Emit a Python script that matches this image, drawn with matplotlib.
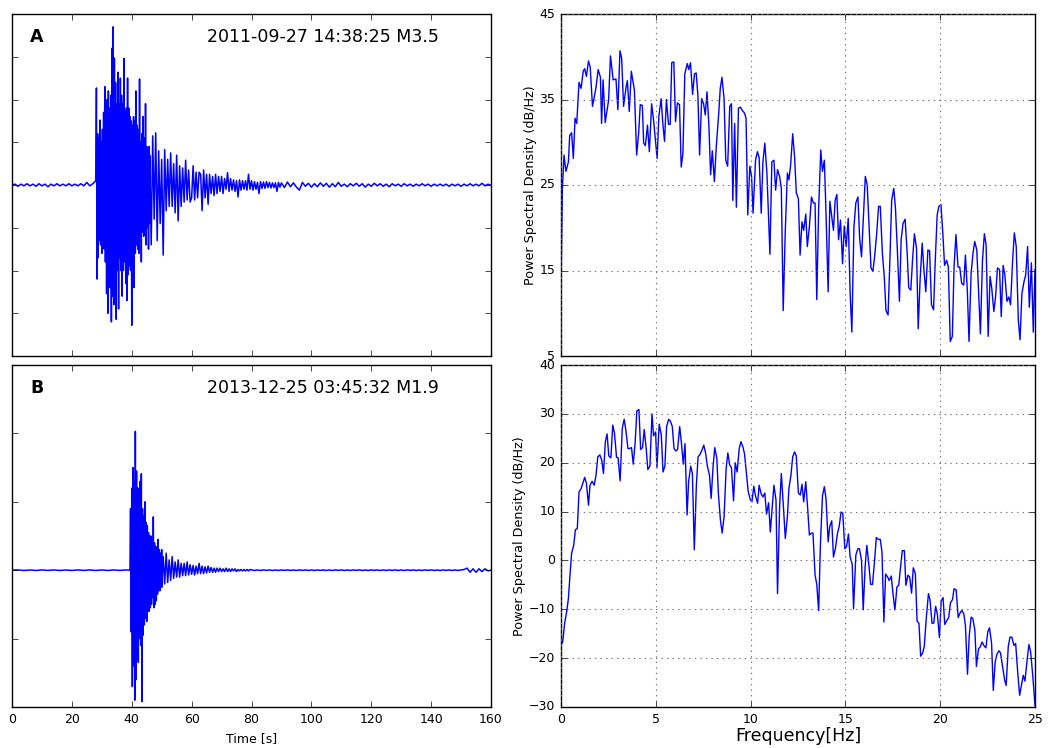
"""Two events: raw seismograms (left) and their power spectral density (right)."""

import numpy as np
import matplotlib

matplotlib.use("Agg")
import matplotlib.pyplot as plt

# ---- seismogram A, 2011-09-27 M3.5 (amplitude in tick units) ----
# each segment: start time [s], sample step [s]
a_pre = [0.0, 0.02, -0.03, 0.02, -0.02, 0.03, -0.02, 0.02, -0.03, 0.03,
         -0.02, 0.02, -0.04, 0.02, -0.02, 0.03, -0.02, 0.02, -0.02, 0.03,
         -0.02, 0.02, -0.02, 0.03, -0.02, 0.06, -0.02, 0.03]
a_burst = [0.1, 2.27, -2.2, 1.2, -1.7, 1.1, -1.3, 1.52, -1.4, 1.0,
           -1.6, 1.3, -1.2, 1.7, -1.5, 2.3, -1.8, 1.6, -2.54, 2.0,
           -3.0, 2.2, -2.0, 1.8, -2.4, 2.1, -3.2, 3.2, -2.6, 3.7,
           -2.8, 2.97, -2.2, 2.4, -3.14, 1.9, -2.0, 2.64, -2.9, 1.9,
           -1.7, 2.5, -2.0, 2.1, -2.6, 1.9, -2.0, 2.96, -1.8, 1.7,
           -2.3, 1.8, -2.7, 2.5, -2.1, 1.8, -1.9, 1.6, -2.0, 1.5,
           -3.28, 1.4, -1.8, 1.6, -2.4, 1.5, -1.6, 2.2, -1.4, 1.4,
           -1.5, 1.3, -1.6, 2.48, -1.2, 1.0, -1.8, 1.2, -1.1, 1.6,
           -1.2, 1.1, -1.0, 1.9, -1.4, 0.9, -1.0, 0.8, -1.5, 0.9, -0.9]
a_coda = [0.7, -1.4, 1.15, -0.8, 1.22, -1.3, 0.8, -0.9, 0.6, -1.64,
          0.83, -0.6, 0.6, -0.5, 0.75, -0.5, 0.5, -0.65, 0.7, -0.84,
          0.45, -0.5, 0.4, -0.4, 0.58, -0.35, 0.35, -0.4, -0.3, 0.45,
          -0.35, 0.3, -0.3, 0.3, 0.25, -0.6, 0.35, -0.3, 0.25, -0.45,
          0.25, -0.2, 0.2, -0.25, 0.25, -0.2, 0.2, -0.15, 0.2, -0.2,
          0.15, -0.1, 0.29, -0.15, 0.15, -0.12, 0.12, -0.15, 0.1, -0.28,
          0.12, -0.12, 0.1, -0.1, 0.1, -0.12, 0.25, -0.1, 0.1, -0.12,
          0.08, -0.1, 0.06, -0.2, 0.08, -0.08, 0.07, -0.08, 0.08, -0.06,
          0.06, -0.07, 0.05, -0.06, 0.05, -0.15, 0.06, -0.05]
a_tail = [0.05, -0.06, 0.07, -0.04, 0.05, -0.05, -0.12, 0.06, -0.03, 0.04,
          -0.05, 0.03, -0.04, 0.05, -0.03, 0.04, -0.05, 0.03, -0.04, 0.06,
          -0.03, 0.02, -0.04, 0.03, -0.02, 0.04, -0.03, 0.03, -0.05, 0.02,
          -0.03, 0.04, -0.02, 0.03, -0.03, 0.02, -0.04, 0.03, -0.02, 0.02,
          -0.03, 0.03, -0.02, 0.02, -0.03, 0.02, -0.02, 0.03, -0.02, 0.02,
          -0.03, 0.02, -0.02, 0.02, -0.02, 0.02, -0.03, 0.02, -0.02, 0.02,
          -0.03, 0.02, -0.02, 0.03, -0.02, 0.02, -0.02, 0.04, -0.02, 0.02, -0.01]
seis_a = [(0.0, 1.0, a_pre), (28.0, 0.2, a_burst), (46.0, 0.5, a_coda), (90.0, 1.0, a_tail)]

# ---- seismogram B, 2013-12-25 M1.9 ----
b_pre = [0.0, 0.004, -0.004, 0.003, -0.004, 0.004, -0.003, 0.004, -0.004, 0.003,
         -0.004, 0.004, -0.003, 0.004, -0.004, 0.003, -0.004, 0.004, -0.003, 0.004]
b_burst = [0.0, 0.9, -0.9, 1.2, -1.7, 1.5, -1.4, 1.3, -1.9, 2.03, -1.6,
           1.45, -1.3, 1.2, -1.35, 1.1, -1.0, 1.3, -1.1, 1.41, -1.92,
           0.9, -0.95, 0.8, -0.8, 1.0, -0.7, 0.7, -0.75, 0.65, -0.6,
           0.55, -0.6, 0.5, -0.55, 0.5, -0.5, 0.45, -0.4, 0.78, -0.55,
           0.4, -0.5, 0.35, -0.45, 0.3, -0.35, 0.45, -0.3, 0.3, -0.3,
           0.25, -0.25, 0.3]
b_coda = [-0.25, 0.2, -0.2, 0.25, -0.18, 0.15, -0.15, 0.2, -0.12, 0.12,
          -0.1, 0.15, -0.1, 0.1, -0.08, 0.1, -0.08, 0.12, -0.07, 0.08,
          -0.06, 0.07, -0.07, 0.06, -0.05, 0.1, -0.05, 0.06, -0.05, 0.05,
          -0.04, 0.06, -0.03, 0.04, -0.03, 0.03, -0.03, 0.03, -0.02, 0.03,
          -0.02, 0.02, -0.02, 0.03, -0.02, 0.02, -0.02, 0.02, -0.01, 0.02,
          -0.02, 0.01, -0.01, 0.01, -0.01, 0.01, -0.01, 0.01, -0.01, 0.01]
b_tail = [0.004, -0.004, 0.003, -0.004, 0.004, -0.003, 0.004, -0.004, 0.003, -0.004,
          0.004, -0.003, 0.004, -0.004, 0.003, -0.004, 0.004, -0.003, 0.004, -0.004,
          0.003, -0.004, 0.004, -0.003, 0.004, -0.004, 0.003, -0.004, 0.004, -0.003,
          0.004, -0.004, 0.003, -0.004, 0.004, -0.003, 0.004, -0.004, 0.003, -0.004,
          0.004, -0.003, 0.004, -0.004, 0.003, -0.004, 0.004, -0.003, 0.004, -0.004,
          0.003, -0.004, 0.004, -0.003, 0.004, -0.004, 0.003, -0.004, 0.004, -0.003,
          0.004, -0.004, 0.003, -0.004, 0.004, -0.003, 0.004, -0.004, 0.003, -0.004,
          0.004, 0.01, 0.03, -0.03, 0.02, -0.03, 0.02, -0.02, 0.02, -0.01, 0.0]
seis_b = [(0.0, 2.0, b_pre), (39.4, 0.2, b_burst), (50.0, 0.5, b_coda), (80.0, 1.0, b_tail)]

# ---- power spectral density [dB/Hz] ----
freq_a = [0.00, 0.07, 0.16, 0.26, 0.39, 0.46, 0.56, 0.65, 0.74, 0.83,
          0.95, 1.06, 1.17, 1.25, 1.34, 1.45, 1.54, 1.66, 1.84, 1.96,
          2.08, 2.14, 2.22, 2.33, 2.51, 2.61, 2.75, 2.90, 3.00, 3.11,
          3.20, 3.30, 3.43, 3.50, 3.60, 3.71, 3.87, 3.99, 4.10, 4.18,
          4.29, 4.36, 4.45, 4.56, 4.66, 4.78, 4.89, 5.01, 5.07, 5.16,
          5.28, 5.37, 5.46, 5.56, 5.67, 5.76, 5.84, 5.95, 6.04, 6.14,
          6.25, 6.34, 6.43, 6.53, 6.66, 6.74, 6.83, 6.94, 7.04, 7.13,
          7.22, 7.31, 7.42, 7.52, 7.61, 7.70, 7.80, 7.89, 7.98, 8.09,
          8.19, 8.32, 8.40, 8.49, 8.60, 8.69, 8.79, 8.90, 8.99, 9.06,
          9.16, 9.25, 9.36, 9.46, 9.57, 9.68, 9.76, 9.85, 9.96, 10.05,
          10.13, 10.26, 10.36, 10.45, 10.56, 10.65, 10.75, 10.86, 11.02, 11.12,
          11.23, 11.32, 11.42, 11.53, 11.62, 11.72, 11.83, 11.94, 12.02, 12.11,
          12.22, 12.32, 12.41, 12.52, 12.61, 12.71, 12.80, 12.91, 12.99, 13.10,
          13.21, 13.31, 13.40, 13.49, 13.59, 13.70, 13.79, 13.89, 13.98, 14.09,
          14.18, 14.28, 14.37, 14.46, 14.55, 14.64, 14.74, 14.85, 14.94, 15.04,
          15.15, 15.25, 15.34, 15.45, 15.55, 15.66, 15.75, 15.85, 15.96, 16.05,
          16.15, 16.24, 16.35, 16.45, 16.54, 16.65, 16.75, 16.84, 16.95, 17.05,
          17.14, 17.25, 17.34, 17.44, 17.55, 17.64, 17.74, 17.85, 17.94, 18.04,
          18.15, 18.26, 18.34, 18.45, 18.54, 18.64, 18.75, 18.84, 18.94, 19.05,
          19.14, 19.24, 19.35, 19.44, 19.54, 19.65, 19.74, 19.84, 19.93, 20.04,
          20.14, 20.23, 20.34, 20.43, 20.53, 20.64, 20.73, 20.83, 20.94, 21.03,
          21.13, 21.24, 21.33, 21.43, 21.52, 21.63, 21.73, 21.82, 21.93, 22.03,
          22.12, 22.23, 22.33, 22.42, 22.53, 22.63, 22.72, 22.83, 22.92, 23.02,
          23.13, 23.22, 23.32, 23.41, 23.52, 23.62, 23.71, 23.82, 23.91, 24.01,
          24.12, 24.21, 24.31, 24.42, 24.51, 24.61, 24.70, 24.81, 24.91, 25.00]
psd_a = [12.7, 24.4, 28.5, 26.6, 27.7, 30.8, 31.1, 28.1, 32.8, 32.2,
         37.0, 36.3, 38.3, 38.6, 37.7, 39.5, 38.8, 34.2, 36.3, 38.5,
         37.6, 32.2, 37.3, 32.3, 34.9, 40.1, 37.3, 37.4, 33.8, 40.7,
         39.8, 34.2, 36.4, 37.2, 33.6, 38.3, 36.1, 28.5, 31.2, 34.4,
         34.3, 29.9, 29.6, 32.0, 28.9, 34.5, 32.4, 29.5, 28.1, 33.0,
         35.1, 32.2, 30.1, 35.0, 32.1, 32.1, 39.3, 39.4, 32.4, 34.6,
         34.4, 27.1, 28.7, 38.0, 39.2, 38.5, 39.3, 35.6, 38.0, 38.1,
         35.5, 28.5, 35.1, 34.5, 33.2, 35.9, 32.0, 26.2, 29.0, 25.4,
         29.5, 33.4, 36.3, 37.6, 35.1, 27.9, 27.2, 34.2, 34.5, 23.2,
         32.2, 22.4, 34.0, 34.1, 33.7, 33.4, 32.8, 21.5, 27.2, 26.0,
         21.7, 27.9, 28.9, 28.2, 21.7, 27.7, 29.9, 26.4, 16.9, 27.7,
         27.9, 24.4, 26.8, 26.0, 24.6, 10.3, 19.7, 26.4, 25.6, 27.3,
         31.0, 28.3, 24.1, 23.4, 16.8, 20.7, 19.7, 21.6, 17.8, 20.1,
         23.6, 22.9, 22.9, 11.6, 22.3, 29.1, 26.6, 27.9, 21.5, 12.5,
         23.1, 21.3, 19.7, 23.2, 23.9, 18.6, 20.9, 15.8, 20.2, 17.8,
         21.1, 12.3, 7.8, 20.1, 22.9, 23.6, 18.8, 16.6, 21.7, 26.0,
         25.0, 20.7, 15.3, 14.9, 16.6, 19.3, 22.5, 22.5, 17.0, 14.3,
         10.3, 9.8, 15.8, 23.2, 24.6, 22.3, 17.4, 11.4, 18.6, 20.5,
         21.0, 17.0, 13.0, 12.7, 16.2, 19.3, 17.6, 8.2, 13.9, 18.2,
         15.1, 12.5, 17.4, 17.3, 11.0, 10.4, 16.2, 21.5, 22.5, 22.7,
         19.3, 15.6, 16.2, 15.4, 6.7, 7.3, 15.4, 19.2, 15.4, 15.4,
         13.5, 13.3, 16.8, 12.7, 6.7, 14.7, 17.0, 18.4, 17.4, 12.3,
         7.6, 16.2, 19.3, 18.0, 7.3, 14.3, 12.9, 10.2, 11.9, 15.3,
         15.1, 9.6, 15.6, 14.5, 11.4, 11.9, 11.0, 16.2, 19.4, 17.8,
         9.2, 6.9, 12.3, 13.7, 14.5, 17.8, 10.7, 15.9, 7.8, 15.1]

freq_b = [0.00, 0.09, 0.19, 0.30, 0.39, 0.48, 0.56, 0.67, 0.76, 0.86,
          0.95, 1.06, 1.15, 1.25, 1.34, 1.45, 1.53, 1.64, 1.75, 1.85,
          1.94, 2.05, 2.15, 2.24, 2.34, 2.43, 2.52, 2.63, 2.73, 2.82,
          2.93, 3.01, 3.12, 3.23, 3.33, 3.42, 3.53, 3.61, 3.72, 3.81,
          3.91, 4.00, 4.11, 4.20, 4.30, 4.39, 4.50, 4.58, 4.69, 4.80,
          4.88, 4.99, 5.06, 5.18, 5.29, 5.38, 5.48, 5.57, 5.68, 5.77,
          5.87, 5.96, 6.06, 6.15, 6.26, 6.35, 6.45, 6.54, 6.65, 6.73,
          6.84, 6.93, 7.03, 7.14, 7.23, 7.33, 7.44, 7.53, 7.63, 7.72,
          7.83, 7.92, 8.02, 8.11, 8.22, 8.30, 8.41, 8.50, 8.60, 8.71,
          8.80, 8.90, 8.99, 9.10, 9.19, 9.29, 9.40, 9.49, 9.59, 9.68,
          9.79, 9.87, 9.98, 10.07, 10.17, 10.26, 10.37, 10.45, 10.56, 10.65,
          10.75, 10.84, 10.95, 11.04, 11.14, 11.23, 11.34, 11.42, 11.53, 11.62,
          11.72, 11.83, 11.94, 12.02, 12.13, 12.22, 12.32, 12.41, 12.52, 12.62,
          12.71, 12.80, 12.91, 13.01, 13.10, 13.21, 13.29, 13.40, 13.49, 13.59,
          13.68, 13.79, 13.89, 13.98, 14.09, 14.17, 14.28, 14.37, 14.47, 14.58,
          14.67, 14.77, 14.86, 14.97, 15.06, 15.16, 15.25, 15.36, 15.43, 15.55,
          15.66, 15.74, 15.85, 15.94, 16.04, 16.13, 16.24, 16.33, 16.43, 16.54,
          16.63, 16.73, 16.84, 16.93, 17.03, 17.12, 17.23, 17.31, 17.42, 17.51,
          17.61, 17.72, 17.81, 17.91, 18.00, 18.11, 18.19, 18.30, 18.39, 18.49,
          18.58, 18.69, 18.78, 18.88, 18.97, 19.08, 19.16, 19.27, 19.38, 19.46,
          19.57, 19.66, 19.76, 19.85, 19.96, 20.05, 20.15, 20.24, 20.35, 20.45,
          20.54, 20.65, 20.73, 20.84, 20.95, 21.03, 21.14, 21.25, 21.33, 21.44,
          21.53, 21.63, 21.72, 21.83, 21.91, 22.02, 22.11, 22.21, 22.30, 22.41,
          22.51, 22.60, 22.71, 22.80, 22.90, 22.99, 23.10, 23.18, 23.29, 23.40,
          23.48, 23.59, 23.68, 23.78, 23.89, 23.98, 24.08, 24.19, 24.28, 24.38,
          24.47, 24.58, 24.68, 24.77, 24.88, 25.00]
psd_b = [-17.2, -16.7, -12.9, -10.5, -7.8, -2.7, 1.5, 3.1, 6.3, 6.5,
         14.0, 14.7, 15.8, 17.0, 15.8, 11.3, 15.4, 16.2, 15.4, 17.5,
         21.2, 21.6, 20.5, 17.8, 24.3, 25.9, 21.4, 21.0, 27.7, 26.1,
         21.1, 21.0, 16.3, 27.0, 28.9, 26.7, 22.9, 22.9, 23.1, 19.7,
         24.1, 30.6, 30.9, 22.7, 23.1, 26.8, 22.6, 18.6, 19.3, 30.0,
         25.5, 26.3, 19.0, 27.9, 25.7, 18.1, 19.3, 27.4, 28.9, 28.5,
         27.4, 22.9, 22.4, 22.7, 27.4, 24.1, 19.7, 23.9, 9.3, 16.1,
         19.3, 17.8, 2.2, 15.4, 21.2, 21.7, 22.6, 23.6, 21.9, 19.3,
         17.5, 12.7, 19.2, 23.1, 20.9, 13.7, 8.2, 5.6, 8.9, 18.8,
         22.0, 19.5, 19.0, 12.2, 20.0, 18.1, 22.9, 24.3, 23.3, 21.8,
         17.5, 14.2, 12.5, 12.0, 15.2, 13.2, 11.7, 15.4, 13.6, 13.0,
         13.8, 9.5, 11.8, 5.8, 11.0, 15.4, 12.3, -6.8, 11.0, 17.8,
         11.7, 4.5, 8.9, 14.7, 17.5, 21.2, 22.2, 21.4, 13.8, 13.4,
         15.6, 12.0, 16.1, 10.6, 5.2, 5.6, 5.6, -3.0, -4.9, -10.3,
         3.1, 13.2, 15.1, 12.5, 3.8, 6.9, 8.1, 0.7, 2.4, 5.5,
         6.9, 9.9, 9.7, 2.4, 2.8, 5.4, 0.7, -0.8, -9.9, 1.1,
         2.4, 2.4, 0.0, -10.1, -1.3, 3.1, -1.0, -4.9, -4.9, 0.0,
         4.7, 4.3, 4.3, 1.7, -12.6, -2.8, -3.4, -4.1, -3.2, -6.8,
         -10.1, -5.4, -5.1, -1.3, 2.0, 2.0, -5.1, -3.0, -3.4, -6.7,
         -1.5, -2.7, -12.4, -12.9, -19.6, -18.9, -17.6, -11.6, -6.8, -8.0,
         -12.9, -12.8, -9.4, -11.0, -15.8, -8.3, -7.6, -13.1, -12.3, -11.7,
         -8.7, -8.0, -5.8, -6.0, -11.7, -10.9, -10.2, -11.0, -13.3, -23.3,
         -15.5, -11.6, -11.9, -14.3, -21.7, -18.1, -17.7, -16.7, -17.4, -17.9,
         -14.6, -13.8, -17.0, -26.6, -20.8, -19.2, -18.5, -18.9, -21.7, -24.5,
         -25.6, -17.6, -15.7, -15.7, -17.4, -17.0, -22.5, -27.6, -25.6, -23.5,
         -24.7, -20.5, -17.2, -18.7, -23.5, -29.7]

labels = ["A", "B"]
titles = ["2011-09-27 14:38:25 M3.5", "2013-12-25 03:45:32 M1.9"]


def _trace(segments):
    t, y = [], []
    for start, step, vals in segments:
        t.extend(start + step * np.arange(len(vals)))
        y.extend(vals)
    return np.array(t), np.array(y)


plt.style.use("classic")
plt.rcParams["font.family"] = "DejaVu Sans"
plt.rcParams["axes.unicode_minus"] = True

fig = plt.figure(figsize=(10.48, 7.48), dpi=100, facecolor="white")
W, H = 1048.0, 748.0
rows = [(14, 356), (365, 707)]
seis_axes, psd_axes = [], []
for top, bot in rows:
    b = (H - bot) / H
    h = (bot - top) / H
    seis_axes.append(fig.add_axes([12 / W, b, 479 / W, h]))
    psd_axes.append(fig.add_axes([561 / W, b, 474 / W, h]))

# seismograms
for ax, seg, lab, title in zip(seis_axes, [seis_a, seis_b], labels, titles):
    t, y = _trace(seg)
    ax.plot(t, y, color="b", lw=1.1)
    ax.set_xlim(0, 160)
    ax.set_xticks(np.arange(0, 161, 20))
    ax.set_yticklabels([])
    ax.text(0.038, 0.933, lab, transform=ax.transAxes, fontsize=12.5,
            fontweight="bold", va="center", ha="left")
    ax.text(0.408, 0.933, title, transform=ax.transAxes, fontsize=12.5,
            va="center", ha="left")
    ax.tick_params(labelsize=9)

seis_axes[0].set_ylim(-4, 4)
seis_axes[0].set_yticks(np.arange(-3, 4, 1))
seis_axes[0].set_xticklabels([])
seis_axes[1].set_ylim(-2, 3)
seis_axes[1].set_yticks([-1, 0, 1, 2])
seis_axes[1].set_xlabel("Time [s]", fontsize=9)

# spectra
for ax, f, p in zip(psd_axes, [freq_a, freq_b], [psd_a, psd_b]):
    ax.plot(f, p, color="b", lw=1.0)
    ax.set_xlim(0, 25)
    ax.set_xticks(np.arange(0, 26, 5))
    ax.grid(True, color="0.45", linestyle=":", linewidth=0.8)
    ax.set_ylabel("Power Spectral Density (dB/Hz)", fontsize=9.2, labelpad=2)
    ax.tick_params(labelsize=9)

psd_axes[0].set_ylim(5, 45)
psd_axes[0].set_yticks(np.arange(5, 46, 10))
psd_axes[0].set_xticklabels([])
psd_axes[1].set_ylim(-30, 40)
psd_axes[1].set_yticks(np.arange(-30, 41, 10))
psd_axes[1].set_xlabel("Frequency[Hz]", fontsize=12.5, labelpad=1)

fig.savefig("out.png", dpi=100, facecolor="white")
